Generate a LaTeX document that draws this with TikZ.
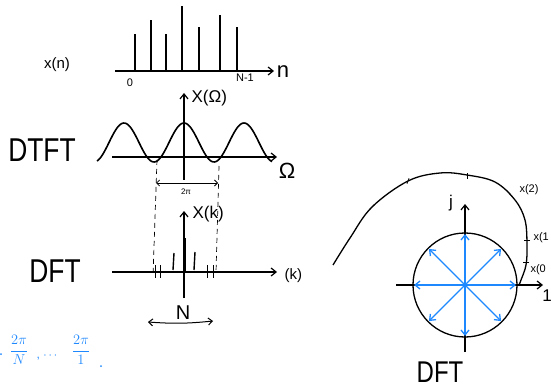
\documentclass[tikz,border=0pt]{standalone}
\usepackage{fontspec}
\setmainfont{Liberation Sans}
\usetikzlibrary{arrows.meta}
\definecolor{hblue}{RGB}{30,136,255}
\tikzset{
  ax/.style={line width=1.2pt,-{Straight Barb[length=5pt,width=8pt]}},
  stem/.style={line width=1.4pt},
  dsh/.style={line width=0.7pt,dash pattern=on 5pt off 4pt},
  big/.style={font=\fontsize{33}{33}\selectfont,xscale=0.8},
  mid/.style={font=\fontsize{17}{17}\selectfont},
  sml/.style={font=\fontsize{15}{15}\selectfont},
  tiny/.style={font=\fontsize{11}{11}\selectfont},
  bl/.style={hblue,line width=1.3pt,-{Straight Barb[length=5pt,width=8pt]}},
}
\begin{document}
\begin{tikzpicture}[x=1pt,y=-1pt]
\useasboundingbox (0,0) rectangle (551,390);
% ---- x(n)
\node[sml] (xn) at (57,65) {x(n)};
\coordinate (na) at (115,71); \coordinate (nb) at (274,71);
\draw[ax] (na) -- (nb);
\node[font=\fontsize{22}{22}\selectfont] (nlab) at (283,72) {n};
\node[tiny] (n0) at (130,83) {0};
\node[tiny] (nN) at (245,78) {N-1};
\foreach \x/\t in {135/34,151/20,166/34,182/6,199/27,220/15,237/27}{
  \draw[stem] (\x,71) -- (\x,\t);
}
% ---- DTFT
\node[big] (dtft) at (42,150) {DTFT};
\coordinate (da) at (112,157); \coordinate (db) at (277,157);
\draw[ax] (da) -- (db);
\coordinate (dv0) at (184,180); \coordinate (dv1) at (184,93);
\draw[ax] (dv0) -- (dv1);
\node[mid,anchor=west] (XO) at (188,98) {X(Ω)};
\node[font=\fontsize{22}{22}\selectfont] (Om) at (287,171) {Ω};
\draw[line width=1.6pt] plot[domain=97:272,samples=120,smooth] (\x,{142.5-19.5*cos(6*(\x-184))});
\coordinate (l1) at (157,160); \coordinate (l2) at (153,276);
\coordinate (r1) at (219,166); \coordinate (r2) at (216,272);
\draw[dsh] (l1) -- (l2);
\draw[dsh] (r1) -- (r2);
\coordinate (p1) at (156,183); \coordinate (p2) at (218,183);
\draw[line width=0.8pt,{Straight Barb[length=3pt,width=6pt]}-{Straight Barb[length=3pt,width=6pt]}] (p1) -- (p2);
\node[font=\fontsize{8}{8}\selectfont] (tp) at (186,192) {2π};
% ---- DFT
\node[big] (dft) at (55,271) {DFT};
\coordinate (ka) at (112,272); \coordinate (kb) at (277,272);
\draw[ax] (ka) -- (kb);
\coordinate (kv0) at (184,298); \coordinate (kv1) at (184,211);
\draw[ax] (kv0) -- (kv1);
\node[mid,anchor=west] (Xk) at (189,214) {X(k)};
\node[sml,anchor=west] (klab) at (281,276) {(k)};
\draw[line width=2.6pt] (185,272) -- (185,238);
\draw[stem] (173,270) -- (174,253);
\draw[stem] (194,270) -- (195,252);
\foreach \x in {155,160,207,213}{ \draw[line width=0.8pt] (\x,265) -- (\x,278); }
\coordinate (Na) at (148,322); \coordinate (Nb) at (213,321);
\draw[line width=1pt,{Straight Barb[length=4pt,width=7pt]}-{Straight Barb[length=4pt,width=7pt]}] (Na) to[bend right=5] (Nb);
\node[font=\fontsize{20}{20}\selectfont] (Nl) at (183,313) {N};
% ---- blue fractions
\node[hblue,font=\fontsize{15}{15}\selectfont] (f1) at (19,350) {$\displaystyle\frac{2\pi}{N}$};
\node[hblue,font=\fontsize{12}{12}\selectfont] (dots) at (47,357) {, $\cdots$};
\node[hblue,font=\fontsize{15}{15}\selectfont] (f2) at (81,350) {$\displaystyle\frac{2\pi}{1}$};
\fill[hblue] (101,366) circle (1);
\fill[hblue] (1,354) circle (1);
% ---- circle
\coordinate (C) at (465,285);
\draw[line width=1.3pt] (C) circle (52);
\coordinate (ha) at (396,285); \coordinate (hb) at (543,285);
\draw[ax] (ha) -- (hb);
\coordinate (va) at (465,352); \coordinate (vb) at (465,204);
\draw[ax] (va) -- (vb);
\node[mid] (jl) at (451,203) {j};
\node[mid] (one) at (547,296) {1};
\foreach \a in {0,45,...,315}{ \draw[bl] (C) -- ++(\a:51); }
% spiral
\draw[line width=1.3pt] plot[smooth,tension=0.6] coordinates {(333,265) (350,238) (372,207) (408,181) (440,173) (467,175) (495,182) (515,200) (525,220) (527,245) (526,265) (521,280) (519,285)};
\foreach \p/\r in {{(372,207)}/45,{(408,181)}/20,{(467,176)}/0,{(509,193)}/-40,{(527,240)}/-90,{(526,262)}/-90}{
  \draw[line width=0.7pt] \p ++(\r+90:3) -- ++(\r-90:6);
}
\node[tiny,anchor=west] (x2) at (516,190) {x(2)};
\node[tiny,anchor=west] (x1) at (530,238) {x(1};
\node[tiny,anchor=west] (x0) at (527,270) {x(0};
\node[font=\fontsize{30}{30}\selectfont,xscale=0.8] (dft2) at (440,372) {DFT};
\end{tikzpicture}
\end{document}
